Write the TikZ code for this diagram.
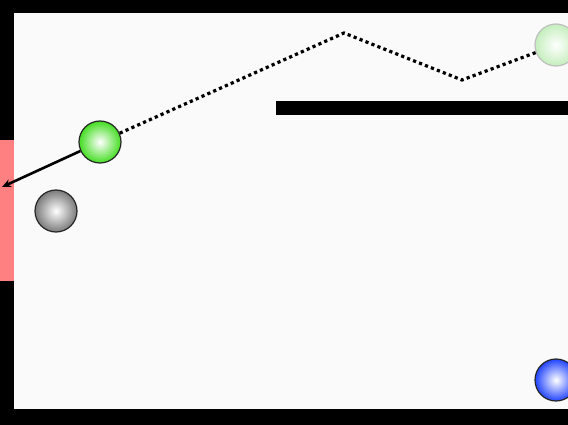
\documentclass[tikz,border=0pt]{standalone}
\usetikzlibrary{arrows.meta}
\definecolor{bg}{HTML}{FAFAFA}
\definecolor{wallred}{HTML}{FF8080}
\definecolor{ballgreen}{HTML}{44DD22}
\definecolor{ballgray}{HTML}{7A7A7A}
\definecolor{ballblue}{HTML}{2244FF}
\definecolor{ghostgreen}{HTML}{C4EEBC}
\tikzset{
  ball/.style={circle, minimum size=42pt, inner sep=0pt, draw=black!85, line width=1.2pt},
  wall/.style={fill=black, draw=none},
  trail/.style={line width=3.2pt, dash pattern=on 3.2pt off 3.2pt},
  shot/.style={line width=2.6pt, -{Stealth[length=9pt,width=8pt]}}
}
\begin{document}
\begin{tikzpicture}[x=1pt,y=-1pt]
\useasboundingbox (0,0) rectangle (568,425);
\fill[bg] (0,0) rectangle (568,425);
% walls
\fill[wall] (0,0) rectangle (568,13);
\fill[wall] (0,409) rectangle (568,425);
\fill[wall] (0,0) rectangle (14,425);
\fill[wallred] (0,140) rectangle (14,281);
\fill[wall] (276,101) rectangle (568,115);
% balls
\node[ball, shading=radial, inner color=white, outer color=ballgreen] (green) at (100,142) {};
\node[ball, shading=radial, inner color=white, outer color=ballgray] (gray) at (56,211) {};
\node[ball, shading=radial, inner color=white, outer color=ballblue] (blue) at (556,380) {};
\node[ball, draw=black!25, shading=radial, inner color=white, outer color=ghostgreen] (ghost) at (556,45) {};
% trail
\coordinate (p1) at (344,33);
\coordinate (p2) at (462,80);
\draw[trail] (green) -- (p1) -- (p2) -- (ghost);
% shot
\coordinate (tip) at (2,187);
\draw[shot] (green) -- (tip);
\end{tikzpicture}
\end{document}
